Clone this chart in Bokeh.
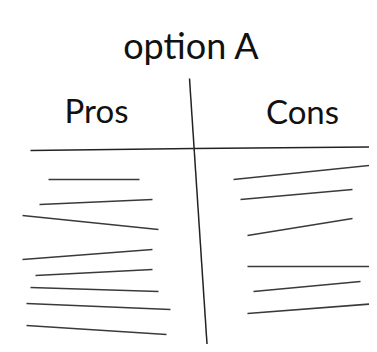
from bokeh.plotting import figure
from bokeh.models import Range1d
from bokeh.embed import file_html
from bokeh.resources import INLINE
from bokeh.core.properties import value

# Titles / headings
title_text = ["option A"]
title_x = [191]
title_y = [44]
headings = ["Pros", "Cons"]
heading_x = [96, 302]
heading_y = [109, 110]

# T-chart frame strokes (reference pixel space)
frame_x0 = [30, 193, 189]
frame_y0 = [150, 148, 78]
frame_x1 = [193, 377, 207]
frame_y1 = [148, 146.5, 351]

# Pros list strokes
pros_x0 = [48, 39, 22, 22, 35, 30, 26, 26]
pros_y0 = [179, 204, 215, 259, 275, 287, 303, 325]
pros_x1 = [139, 152, 158, 152, 152, 158, 170, 166]
pros_y1 = [179, 199, 229, 249, 269, 291, 309, 334]

# Cons list strokes
cons_x0 = [233, 240, 247, 247, 253, 247]
cons_y0 = [179, 199, 235, 266, 291, 313]
cons_x1 = [369, 352, 352, 377, 360, 377]
cons_y1 = [165, 189, 218, 266, 281, 303]

W, H = 369, 344
p = figure(width=W, height=H, output_backend="svg", toolbar_location=None,
           x_range=Range1d(0, W), y_range=Range1d(H, 0),
           min_border=0, outline_line_color=None)
p.axis.visible = False
p.grid.visible = False
p.background_fill_color = "white"
p.border_fill_color = "white"

p.segment(x0=frame_x0, y0=frame_y0, x1=frame_x1, y1=frame_y1,
          line_color="#222222", line_width=1.5)
p.segment(x0=pros_x0, y0=pros_y0, x1=pros_x1, y1=pros_y1,
          line_color="#3a3a3a", line_width=1.6)
p.segment(x0=cons_x0, y0=cons_y0, x1=cons_x1, y1=cons_y1,
          line_color="#3a3a3a", line_width=1.6)

p.text(x=title_x, y=title_y, text=title_text, text_font=value("Lato"),
       text_font_size="36px", text_align="center", text_baseline="alphabetic",
       text_color="#111111")
p.text(x=heading_x, y=heading_y, text=headings, text_font=value("Lato"),
       text_font_size="33px", text_align="center", text_baseline="alphabetic",
       text_color="#111111")

open("out.html", "w").write(file_html(p, INLINE))
